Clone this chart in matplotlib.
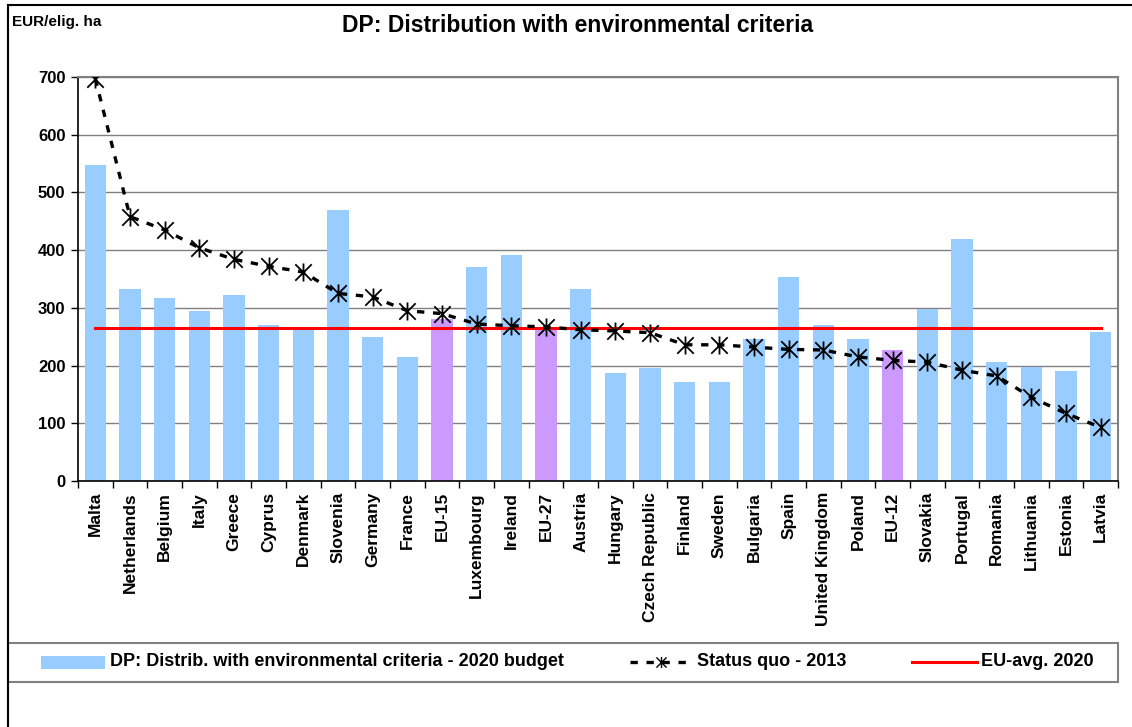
import matplotlib
matplotlib.use("Agg")
import matplotlib.pyplot as plt
from matplotlib.path import Path
from matplotlib.patches import Rectangle
from matplotlib.lines import Line2D
import numpy as np

plt.rcParams['font.family'] = ['Liberation Sans', 'DejaVu Sans']
plt.rcParams['font.weight'] = 'bold'

categories = ["Malta", "Netherlands", "Belgium", "Italy", "Greece", "Cyprus", "Denmark",
              "Slovenia", "Germany", "France", "EU-15", "Luxembourg", "Ireland", "EU-27",
              "Austria", "Hungary", "Czech Republic", "Finland", "Sweden", "Bulgaria",
              "Spain", "United Kingdom", "Poland", "EU-12", "Slovakia", "Portugal",
              "Romania", "Lithuania", "Estonia", "Latvia"]
dp_2020 = [547, 332, 317, 294, 322, 270, 262, 469, 249, 215, 280, 370, 391, 265,
           332, 187, 195, 171, 171, 246, 353, 270, 246, 227, 298, 420, 206, 197, 190, 259]
status_quo_2013 = [697, 458, 435, 404, 384, 372, 362, 325, 319, 295, 290, 272, 269, 267,
                   262, 260, 257, 236, 236, 232, 228, 227, 215, 209, 206, 192, 182, 145, 117, 93]
eu_avg_2020 = 265
yticks = [0, 100, 200, 300, 400, 500, 600, 700]

W, H = 1132, 727
fig = plt.figure(figsize=(W / 100, H / 100), dpi=100)

def fx(x):
    return x / W

def fy(y):
    return 1 - y / H

ax = fig.add_axes([fx(78), fy(481), (1118 - 78) / W, (481 - 77) / H])

blue = "#99CCFF"
purple = "#CC99FF"
colors = [purple if c.startswith("EU-") else blue for c in categories]
x = np.arange(len(categories))

ax.bar(x, dp_2020, width=0.62, color=colors, zorder=2)
ax.plot(x, [eu_avg_2020] * len(x), color="#FF0000", lw=2.2, zorder=3)

star = Path([(-1, -1), (1, 1), (-1, 1), (1, -1), (0, -1.1), (0, 1.1)],
            [Path.MOVETO, Path.LINETO, Path.MOVETO, Path.LINETO, Path.MOVETO, Path.LINETO])
ax.plot(x, status_quo_2013, color="black", lw=2.4, dashes=(2.2, 2.6),
        marker=star, markersize=13, markeredgewidth=1.3, markeredgecolor="black",
        markerfacecolor="none", zorder=4)

ax.set_xlim(-0.5, len(categories) - 0.5)
ax.set_ylim(0, 700)
ax.set_yticks(yticks)
ax.set_yticklabels([str(v) for v in yticks], fontsize=12, fontweight='bold')
ax.yaxis.grid(True, color="#808080", lw=1, zorder=0)
ax.set_axisbelow(True)

ax.set_xticks(x)
ax.set_xticklabels(categories, rotation=90, fontsize=12.5, fontweight='bold')
ax.tick_params(axis='x', which='major', length=0, pad=8)
ax.set_xticks(np.arange(-0.5, len(categories)), minor=True)
ax.tick_params(axis='x', which='minor', length=5, width=1, direction='out', color='black')
ax.tick_params(axis='y', length=5, width=1, direction='out', pad=4)

for s in ['top', 'right']:
    ax.spines[s].set_color("#808080")
    ax.spines[s].set_linewidth(1.5)
for s in ['left', 'bottom']:
    ax.spines[s].set_color("black")
    ax.spines[s].set_linewidth(1.2)

# Title and unit label
fig.text(fx(578), fy(26), "DP: Distribution with environmental criteria",
         ha='center', va='center', fontsize=16.5, fontweight='bold')
fig.text(fx(12), fy(22), "EUR/elig. ha", ha='left', va='center', fontsize=11, fontweight='bold')

# Outer frame
fig.add_artist(Line2D([fx(8), fx(8)], [fy(5), fy(740)], color='black', lw=1.5,
                      transform=fig.transFigure))
fig.add_artist(Line2D([fx(8), fx(1140)], [fy(5), fy(5)], color='black', lw=1.5,
                      transform=fig.transFigure))

# Legend box
fig.add_artist(Rectangle((fx(8), fy(682)), (1118 - 8) / W, (682 - 643) / H,
                         transform=fig.transFigure, fill=False, edgecolor="#808080", lw=1.5))
ly = 662
fig.add_artist(Rectangle((fx(41), fy(669)), (105 - 41) / W, (669 - 656) / H,
                         transform=fig.transFigure, facecolor=blue, edgecolor='none'))
fig.text(fx(110), fy(ly), "DP: Distrib. with environmental criteria - 2020 budget",
         ha='left', va='center', fontsize=13, fontweight='bold')
fig.add_artist(Line2D([fx(630), fx(693)], [fy(ly), fy(ly)], color='black', lw=2.4,
                      dashes=(2.2, 2.6), transform=fig.transFigure))
fig.add_artist(Line2D([fx(661)], [fy(ly)], marker=star, markersize=8, markeredgewidth=1.0,
                      markeredgecolor='black', markerfacecolor='none', linestyle='none',
                      transform=fig.transFigure))
fig.text(fx(697), fy(ly), "Status quo - 2013", ha='left', va='center', fontsize=13,
         fontweight='bold')
fig.add_artist(Line2D([fx(912), fx(977)], [fy(ly), fy(ly)], color='#FF0000', lw=2.2,
                      transform=fig.transFigure))
fig.text(fx(981), fy(ly), "EU-avg. 2020", ha='left', va='center', fontsize=13,
         fontweight='bold')

fig.savefig("out.png", dpi=100)
